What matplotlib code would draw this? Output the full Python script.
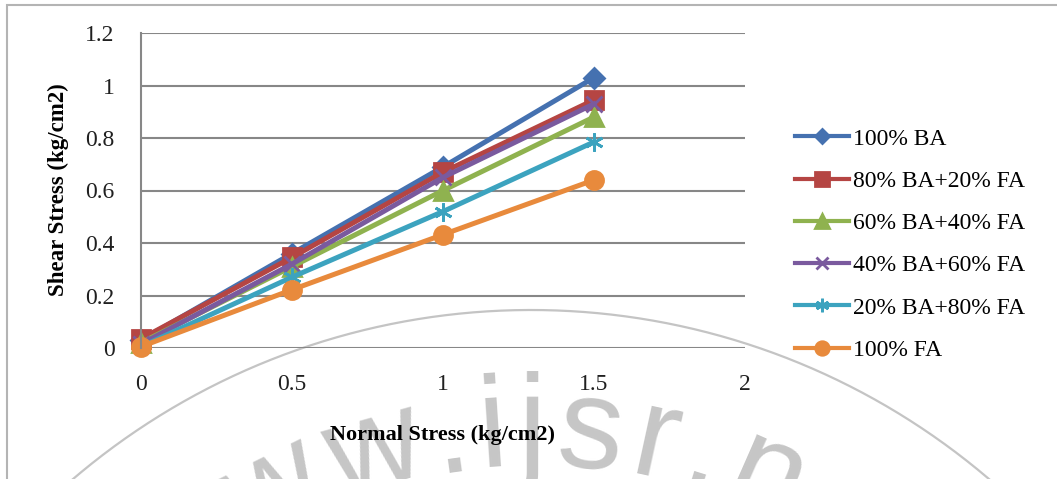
import numpy as np
import matplotlib
matplotlib.use('Agg')
import matplotlib.pyplot as plt
from matplotlib.lines import Line2D
from matplotlib.patches import Rectangle

# normal stress (kg/cm2)
normal_stress = [0, 0.5, 1, 1.5]

# shear stress (kg/cm2) for each mix
shear_100ba = [0.03, 0.36, 0.69, 1.03]
shear_80ba_20fa = [0.035, 0.345, 0.67, 0.945]
shear_60ba_40fa = [0.02, 0.31, 0.60, 0.88]
shear_40ba_60fa = [0.015, 0.32, 0.65, 0.93]
shear_20ba_80fa = [0.005, 0.27, 0.52, 0.785]
shear_100fa = [0.005, 0.222, 0.432, 0.64]

mix_labels = ['100% BA', '80% BA+20% FA', '60% BA+40% FA',
              '40% BA+60% FA', '20% BA+80% FA', '100% FA']
y_ticks = [0, 0.2, 0.4, 0.6, 0.8, 1, 1.2]
y_tick_labels = ['0', '0.2', '0.4', '0.6', '0.8', '1', '1.2']
x_ticks = [0, 0.5, 1, 1.5, 2]
x_tick_labels = ['0', '0.5', '1', '1.5', '2']

series = [shear_100ba, shear_80ba_20fa, shear_60ba_40fa,
          shear_40ba_60fa, shear_20ba_80fa, shear_100fa]
colors = ['#4571b0', '#b54543', '#8fb24f', '#7a5a9e', '#3ca3bf', '#e88a3c']
markers = ['D', 's', '^', 'x', (6, 2, 0), 'o']
msizes = [10, 13, 13, 12, 13, 13]

W, H = 1057, 479
fig = plt.figure(figsize=(W / 100, H / 100), dpi=100)
fig.patch.set_facecolor('white')


def fpos(x, y):
    # pixel position (y down) -> figure fraction
    return x / W, 1 - y / H


# outer chart border
x0, y0 = fpos(7, 5)
fig.add_artist(Rectangle((x0, -0.1), 1.2, y0 + 0.1, transform=fig.transFigure,
                         fill=False, edgecolor='#b4b4b4', linewidth=1.5, zorder=-2))

# background stamp: arc and curved site name
cx, cy = 531, 1015
th = np.radians(np.linspace(-75, 75, 400))
ax_ = [(cx + 705 * np.sin(t)) / W for t in th]
ay_ = [1 - (cy - 705 * np.cos(t)) / H for t in th]
fig.add_artist(Line2D(ax_, ay_, transform=fig.transFigure, color='#c4c4c4',
                      linewidth=1.6, zorder=-1))

stamp = 'www.ijsr.net'
adv = {'w': 0.722, '.': 0.278, 'i': 0.222, 'j': 0.222, 's': 0.5,
       'r': 0.333, 'n': 0.556, 'e': 0.556, 't': 0.278}
em, track, rad = 130, 8, 550
widths = [adv[c] * em + track for c in stamp]
centers = np.cumsum(widths) - np.array(widths) / 2
i_idx = stamp.index('i')
s0 = rad * np.arcsin((495 - cx) / rad)
arc_pos = centers - centers[i_idx] + s0
for c, s in zip(stamp, arc_pos):
    t = s / rad
    px_, py_ = cx + rad * np.sin(t), cy - rad * np.cos(t)
    fx, fy = fpos(px_, py_)
    fig.text(fx, fy, c, fontsize=em * 0.72, family='Liberation Sans',
             color='#c6c6c6', ha='center', va='baseline',
             rotation=-np.degrees(t), rotation_mode='anchor', zorder=-1)

# plot area
left, top = fpos(141, 33)
right, bottom = fpos(745, 348)
ax = fig.add_axes([left, bottom, right - left, top - bottom])
ax.patch.set_visible(False)

for vals, lab, col, mk, ms in zip(series, mix_labels, colors, markers, msizes):
    ax.plot(normal_stress, vals, color=col, linewidth=3.6, marker=mk,
            markersize=ms, markeredgewidth=2, markeredgecolor=col,
            label=lab, clip_on=False)

ax.set_xlim(0, 2)
ax.set_ylim(0, 1.2)
ax.set_yticks(y_ticks)
ax.set_yticklabels(y_tick_labels)
ax.set_xticks(x_ticks)
ax.set_xticklabels(x_tick_labels)
ax.grid(axis='y', color='#878787', linewidth=1.5)
ax.set_axisbelow(True)
for side in ['top', 'right', 'bottom']:
    ax.spines[side].set_visible(False)
ax.spines['left'].set_color('#878787')
ax.spines['left'].set_linewidth(1.5)
ax.tick_params(length=0, labelsize=17, pad=19)
for lbl in ax.get_xticklabels() + ax.get_yticklabels():
    lbl.set_family('Liberation Serif')
    lbl.set_color('#202020')

fig.text(*fpos(443, 435), 'Normal Stress (kg/cm2)', family='Liberation Serif',
         fontweight='bold', fontsize=16, ha='center', va='center')
fig.text(*fpos(58, 190), 'Shear Stress (kg/cm2)', family='Liberation Serif',
         fontweight='bold', fontsize=16.5, ha='center', va='center', rotation=90)

leg = ax.legend(loc='upper left', bbox_to_anchor=fpos(795, 128),
                bbox_transform=fig.transFigure, frameon=False, numpoints=1,
                handlelength=2.3, handletextpad=0.15, labelspacing=0.88,
                borderpad=0, borderaxespad=0, markerscale=0.75,
                prop={'family': 'Liberation Serif', 'size': 17})
for h in leg.get_lines():
    h.set_linewidth(3)

fig.savefig('out.png', dpi=100, facecolor='white')
